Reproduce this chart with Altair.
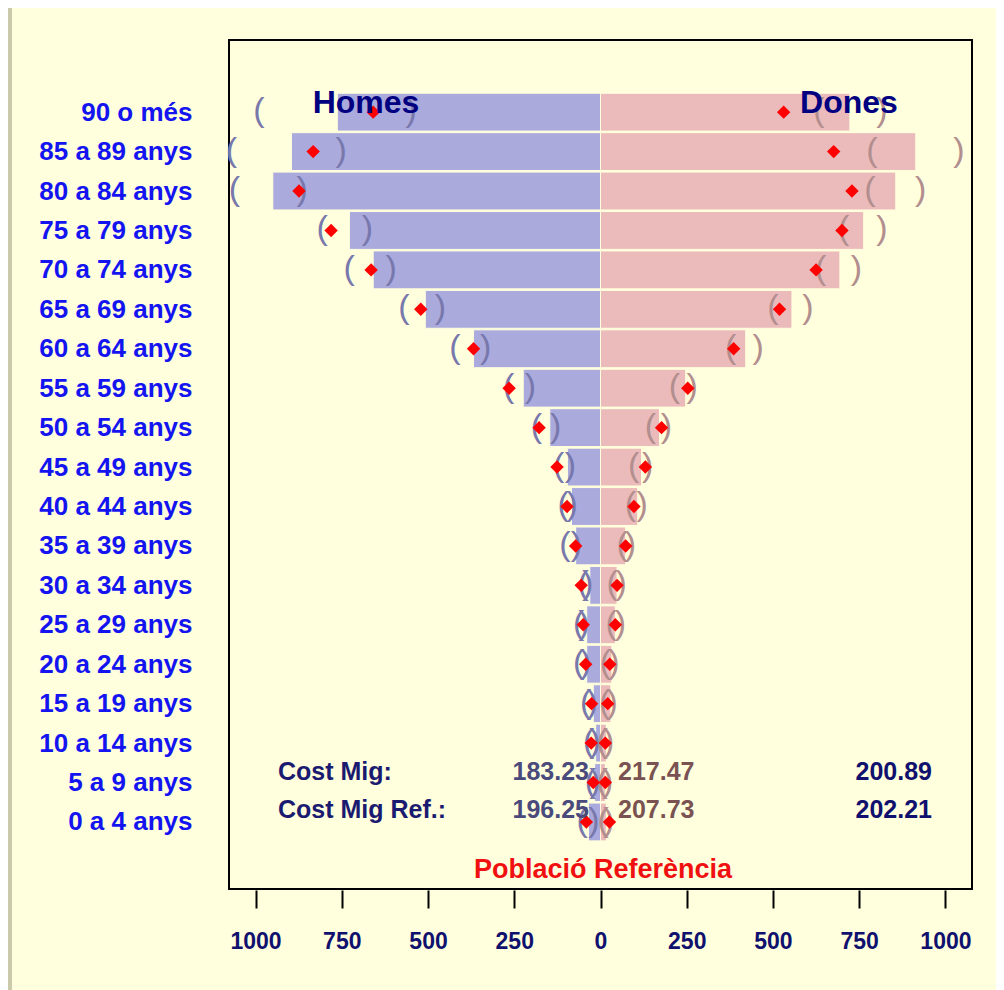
import altair as alt
import pandas as pd

# Age groups, top to bottom
ages = ["90 o més", "85 a 89 anys", "80 a 84 anys", "75 a 79 anys", "70 a 74 anys",
        "65 a 69 anys", "60 a 64 anys", "55 a 59 anys", "50 a 54 anys", "45 a 49 anys",
        "40 a 44 anys", "35 a 39 anys", "30 a 34 anys", "25 a 29 anys", "20 a 24 anys",
        "15 a 19 anys", "10 a 14 anys", "5 a 9 anys", "0 a 4 anys"]

# Men (Homes)
homes = [763, 896, 950, 728, 659, 508, 368, 224, 147, 96, 84, 72, 31, 40, 40, 21, 14, 17, 35]
homes_ref = [659, 833, 874, 781, 665, 521, 368, 265, 178, 126, 97, 72, 56, 50, 43, 26, 27, 21, 41]
homes_ci_lo = [549, 752, 865, 676, 607, 464, 333, 203, 130, 87, 82, 70, 37, 48, 43, 24, 16, 16, 19]
homes_ci_hi = [990, 1070, 1061, 807, 729, 570, 422, 266, 186, 121, 108, 103, 50, 63, 63, 43, 34, 29, 53]

# Women (Dones)
dones = [723, 914, 856, 763, 694, 555, 421, 247, 171, 119, 108, 73, 48, 43, 33, 30, 17, 14, 17]
dones_ref = [531, 676, 729, 700, 625, 519, 386, 253, 177, 130, 97, 73, 48, 43, 27, 21, 14, 14, 26]
dones_ci_lo = [633, 787, 781, 705, 638, 500, 377, 214, 145, 96, 87, 63, 34, 31, 14, 12, 5, 5, 8]
dones_ci_hi = [816, 1039, 928, 816, 742, 601, 457, 266, 191, 137, 121, 87, 60, 58, 39, 34, 24, 21, 24]

x_ticks = [-1000, -750, -500, -250, 0, 250, 500, 750, 1000]

n = len(ages)
idx = [n - 1 - i for i in range(n)]

rows = []
for i in range(n):
    rows.append({"age": ages[i], "idx": idx[i], "sex": "Homes",
                 "val": -homes[i], "ref": -homes_ref[i],
                 "open": -homes_ci_hi[i], "close": -homes_ci_lo[i]})
    rows.append({"age": ages[i], "idx": idx[i], "sex": "Dones",
                 "val": dones[i], "ref": dones_ref[i],
                 "open": dones_ci_lo[i], "close": dones_ci_hi[i]})
df = pd.DataFrame(rows)

FONT = "Liberation Sans"
labels_expr = "[" + ",".join("'" + a + "'" for a in reversed(ages)) + "][datum.value]"

xscale = alt.Scale(domain=[-1077, 1077], nice=False, zero=False)
yscale = alt.Scale(domain=[-1.70, 19.83], nice=False, zero=False)

base = alt.Chart(df)

bars = base.mark_bar(stroke="#FFFFDD", strokeWidth=1).transform_calculate(
    y0="datum.idx - 0.48", y1="datum.idx + 0.48", zero="0"
).encode(
    x=alt.X("val:Q", scale=xscale,
            axis=alt.Axis(values=x_ticks, labelExpr="format(abs(datum.value), 'd')",
                          title=None, grid=False, domain=False, tickSize=18,
                          tickColor="black", tickWidth=2, labelPadding=22,
                          labelFont=FONT, labelFontSize=23, labelFontWeight="bold",
                          labelColor="#10106E", offset=1)),
    x2="zero:Q",
    y=alt.Y("y0:Q", scale=yscale,
            axis=alt.Axis(values=list(range(n)), labelExpr=labels_expr, title=None,
                          grid=False, domain=False, ticks=False, tickSize=0,
                          labelPadding=37, labelFont=FONT, labelFontSize=26,
                          labelFontWeight="bold", labelColor="#1414F0")),
    y2="y1:Q",
    color=alt.Color("sex:N", scale=alt.Scale(domain=["Homes", "Dones"],
                                             range=["#AAAADD", "#EBBBBB"]), legend=None),
)


def brackets(sex, field, char, color):
    return base.transform_filter(alt.datum.sex == sex).mark_text(
        text=char, fontSize=34, font=FONT, baseline="middle", align="center", dy=-1, color=color
    ).encode(x=alt.X(f"{field}:Q", scale=xscale), y=alt.Y("idx:Q", scale=yscale))


br = [
    brackets("Homes", "open", "(", "#7878AC"),
    brackets("Homes", "close", ")", "#7878AC"),
    brackets("Dones", "open", "(", "#B28E8E"),
    brackets("Dones", "close", ")", "#B28E8E"),
]

pts = base.mark_point(shape="diamond", filled=True, color="#FF0000", size=180, opacity=1).encode(
    x=alt.X("ref:Q", scale=xscale), y=alt.Y("idx:Q", scale=yscale))


def txt(s, x, y, color, size=25, align="left", weight="bold"):
    return alt.Chart(pd.DataFrame({"t": [s]})).mark_text(
        font=FONT, fontSize=size, fontWeight=weight, color=color, align=align, baseline="middle"
    ).encode(text="t:N", x=alt.value(x), y=alt.value(y))


annots = [
    txt("Homes", 137, 63, "#000080", size=32, align="center"),
    txt("Dones", 620, 63, "#000080", size=32, align="center"),
    txt("Cost Mig:", 49, 732, "#1A1A70"),
    txt("183.23", 360, 732, "#4A4A7C", align="right"),
    txt("217.47", 389, 732, "#7A5252"),
    txt("200.89", 703, 732, "#10106E", align="right"),
    txt("Cost Mig Ref.:", 49, 770, "#1A1A70"),
    txt("196.25", 360, 770, "#4A4A7C", align="right"),
    txt("207.73", 389, 770, "#7A5252"),
    txt("202.21", 703, 770, "#10106E", align="right"),
    txt("Població Referència", 374, 830, "#F01010", size=27, align="center"),
]

strip = alt.Chart(pd.DataFrame({"a": [0]})).mark_rect(color="#CACAAA").encode(
    x=alt.value(-221), x2=alt.value(-217), y=alt.value(-32), y2=alt.value(950))

chart = alt.layer(strip, bars, *br, pts, *annots).properties(
    width=743, height=849,
    padding={"left": 221, "top": 32, "right": 24, "bottom": 101},
    autosize=alt.AutoSizeParams(type="none"),
    background="#FFFFDD",
).configure_view(stroke="black", strokeWidth=2)

chart.save("out.html", embed_options={"renderer": "svg", "actions": False})
